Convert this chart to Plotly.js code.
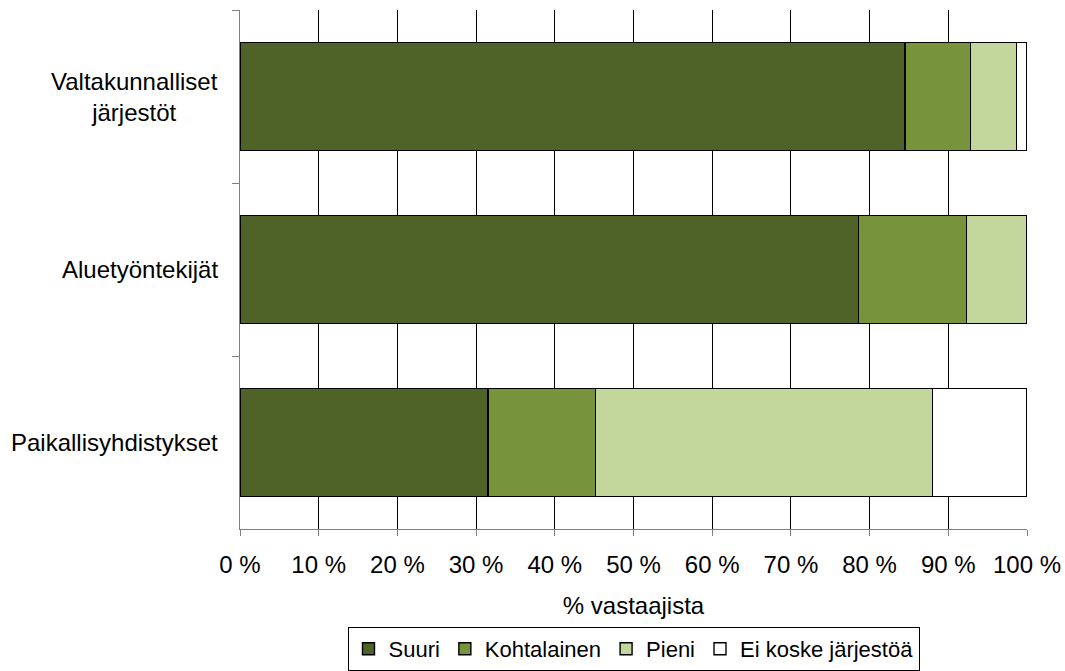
<!DOCTYPE html>
<html>
<head>
<meta charset="utf-8">
<script src="https://cdn.plot.ly/plotly-3.0.1.min.js"></script>
<style>html,body{margin:0;padding:0;background:#fff;}#chart{width:1065px;height:671px;}</style>
</head>
<body>
<div id="chart"></div>
<script>
const categories = ["Valtakunnalliset<br>järjestöt", "Aluetyöntekijät", "Paikallisyhdistykset"];
const seriesNames = ["Suuri", "Kohtalainen", "Pieni", "Ei koske järjestöä"];
const suuri = [84.5, 78.6, 31.5];
const kohtalainen = [8.3, 13.7, 13.7];
const pieni = [5.9, 7.7, 42.8];
const eiKoske = [1.3, 0, 12.0];
const colors = ["#4F6228", "#77933C", "#C3D69B", "#FFFFFF"];
const xTickVals = [0,10,20,30,40,50,60,70,80,90,100];
const xTickText = ["0 %","10 %","20 %","30 %","40 %","50 %","60 %","70 %","80 %","90 %","100 %"];

const FONT = "Liberation Sans, Arial, sans-serif";
const FS = 24;
const seriesData = [suuri, kohtalainen, pieni, eiKoske];
const traces = seriesData.map((vals, i) => ({
  type: "bar",
  orientation: "h",
  name: seriesNames[i],
  y: categories,
  x: vals,
  marker: {color: colors[i], line: {color: "#000", width: 1.4}},
  hoverinfo: "x+name"
}));

const annotations = categories.map(c => ({
  xref: "paper", yref: "y", x: -0.025, y: c, xanchor: "right", yanchor: "middle",
  text: c, align: "center", showarrow: false,
  font: {family: FONT, size: FS, color: "#000"}
}));

const layout = {
  width: 1065, height: 671,
  margin: {l: 240, r: 38, t: 10, b: 142},
  paper_bgcolor: "#fff", plot_bgcolor: "#fff",
  barmode: "stack",
  bargap: 0.375,
  font: {family: FONT, size: FS, color: "#000"},
  xaxis: {
    range: [0, 100],
    tickvals: xTickVals, ticktext: xTickText,
    showgrid: true, gridcolor: "#000", gridwidth: 1,
    zeroline: false,
    showline: true, linecolor: "#808080", linewidth: 1,
    ticks: "outside", ticklen: 6, tickcolor: "#808080",
    ticklabelstandoff: 8,
    tickfont: {family: FONT, size: FS, color: "#000"},
    title: {text: "% vastaajista", font: {family: FONT, size: FS, color: "#000"}, standoff: 20},
    automargin: false,
    fixedrange: true
  },
  yaxis: {
    type: "category",
    categoryorder: "array", categoryarray: categories,
    autorange: "reversed",
    showgrid: false, zeroline: false,
    showline: true, linecolor: "#808080", linewidth: 1,
    ticks: "outside", ticklen: 7, tickcolor: "#808080",
    tickson: "boundaries",
    showticklabels: false,
    automargin: false,
    fixedrange: true
  },
  showlegend: true,
  legend: {
    orientation: "h", xref: "paper", x: 0.5, xanchor: "center",
    yref: "container", y: 0.0, yanchor: "bottom",
    bordercolor: "#000", borderwidth: 1, bgcolor: "#fff",
    font: {family: FONT, size: 22, color: "#000"},
    traceorder: "normal",
    itemwidth: 30
  },
  annotations: annotations
};

Plotly.newPlot("chart", traces, layout, {displayModeBar: false, staticPlot: true});
</script>
</body>
</html>
